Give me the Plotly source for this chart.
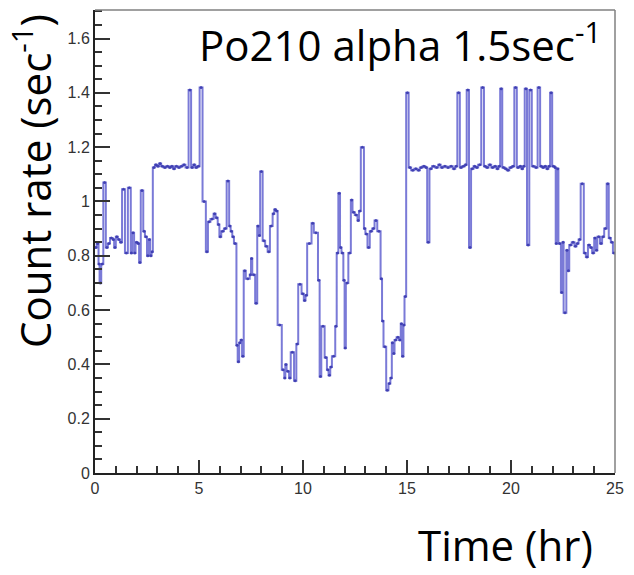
import plotly.graph_objects as go

# Step-histogram: start time of each step (hr) and the count rate (1/sec) over that step
t_start = [
    0.00, 0.08, 0.17, 0.22, 0.30, 0.40, 0.52, 0.62, 0.72, 0.85, 0.92, 1.00, 1.10, 1.20,
    1.30, 1.44, 1.58, 1.72, 1.78, 1.88, 1.95, 2.05, 2.12, 2.20, 2.32, 2.40, 2.50, 2.58,
    2.65, 2.72,
    2.78, 2.88, 2.98, 3.08, 3.18, 3.30, 3.42, 3.55, 3.65, 3.75, 3.85, 3.98, 4.10, 4.22,
    4.35, 4.50, 4.62, 4.72, 4.82, 4.92, 5.03,
    5.17, 5.33, 5.43, 5.55, 5.70, 5.80, 5.90, 5.98, 6.07, 6.20, 6.33, 6.45, 6.52, 6.60,
    6.68, 6.80, 6.86, 6.93, 7.00, 7.07, 7.15, 7.25, 7.44, 7.50, 7.56, 7.70, 7.80, 7.87,
    7.94, 8.06, 8.18, 8.30, 8.41, 8.54, 8.62, 8.70,
    8.78, 8.98, 9.10, 9.15, 9.21, 9.33, 9.41, 9.57, 9.68, 9.77, 9.93, 10.04, 10.12,
    10.20, 10.41, 10.52, 10.72, 10.80, 10.88, 11.04, 11.15, 11.23, 11.31, 11.39, 11.55,
    11.62, 11.70, 11.78, 11.85, 11.94, 12.00, 12.06, 12.18, 12.30,
    12.38, 12.49, 12.62, 12.69, 12.78, 12.93, 13.00, 13.10, 13.21, 13.33, 13.44, 13.57,
    13.73, 13.80, 13.87, 14.00, 14.11, 14.20, 14.27, 14.33, 14.40, 14.50, 14.62, 14.70,
    14.76, 14.83, 14.88, 14.96,
    15.08, 15.20, 15.35, 15.50, 15.62, 15.75, 15.88, 15.97, 16.08, 16.20, 16.35, 16.50,
    16.62, 16.75, 16.90, 17.05, 17.20, 17.32, 17.42, 17.54, 17.65, 17.78, 17.87, 17.98,
    18.08, 18.20, 18.30, 18.42, 18.57, 18.70, 18.80, 18.92, 19.05, 19.18, 19.30, 19.40,
    19.48, 19.58, 19.70, 19.80, 19.92, 20.05, 20.16, 20.28, 20.40, 20.50, 20.58, 20.66,
    20.77, 20.88, 21.00, 21.15, 21.28, 21.40, 21.50, 21.60, 21.70, 21.80, 21.88, 21.98,
    22.10, 22.15, 22.21, 22.28,
    22.40, 22.48, 22.53, 22.66, 22.72, 22.80, 22.92, 23.05, 23.15, 23.25, 23.35, 23.50,
    23.60, 23.70, 23.80, 23.90, 24.00, 24.08, 24.15, 24.28, 24.38, 24.48, 24.60, 24.70,
    24.80, 24.90,
]
rate = [
    0.83, 0.845, 0.77, 0.70, 0.77, 1.07, 0.83, 0.845, 0.865, 0.86, 0.83, 0.87, 0.86, 0.85,
    1.045, 0.81, 1.05, 0.81, 0.885, 0.81, 0.85, 0.845, 0.775, 1.04, 0.89, 0.87, 0.80, 0.86,
    0.80, 0.815,
    1.125, 1.135, 1.13, 1.14, 1.13, 1.125, 1.13, 1.125, 1.13, 1.12, 1.13, 1.125, 1.13, 1.135,
    1.125, 1.41, 1.125, 1.135, 1.125, 1.13, 1.42,
    1.00, 0.815, 0.925, 0.935, 0.955, 0.94, 0.915, 0.87, 0.89, 0.90, 1.075, 0.91, 0.89, 0.87,
    0.845, 0.47, 0.41, 0.48, 0.49, 0.43, 0.745, 0.715, 0.73, 0.79, 0.73, 0.625, 0.91, 0.875,
    1.11, 0.855, 0.835, 0.815, 0.91, 0.955, 0.97, 0.965,
    0.545, 0.38, 0.35, 0.40, 0.375, 0.35, 0.445, 0.34, 0.475, 0.695, 0.66, 0.635, 0.655,
    0.845, 0.92, 0.885, 0.71, 0.355, 0.54, 0.425, 0.38, 0.36, 0.39, 0.43, 0.54,
    0.81, 1.03, 0.83, 0.81, 0.71, 0.46, 0.70, 0.81, 1.005,
    0.96, 0.95, 0.93, 0.965, 1.20, 0.90, 0.88, 0.83, 0.89, 0.90, 0.93, 0.89,
    0.715, 0.56, 0.465, 0.305, 0.33, 0.35, 0.48, 0.44, 0.49, 0.50, 0.49, 0.55,
    0.43, 0.545, 0.65, 1.40,
    1.125, 1.115, 1.12, 1.115, 1.125, 1.13, 1.125, 0.85, 1.12, 1.13, 1.125, 1.135,
    1.125, 1.13, 1.125, 1.13, 1.12, 1.13, 1.40, 1.125, 1.13, 1.135, 1.41, 0.83,
    1.12, 1.13, 1.125, 1.135, 1.42, 1.13, 1.125, 1.135, 1.125, 1.13, 1.12, 1.13,
    1.415, 1.125, 1.12, 1.115, 1.125, 1.13, 1.42, 1.125, 1.13, 1.12, 1.13, 1.415,
    0.84, 1.41, 1.13, 1.125, 1.42, 1.13, 1.125, 1.13, 1.12, 1.13, 1.40, 1.13,
    1.125, 0.845, 1.12, 0.845,
    0.665, 0.85, 0.59, 0.82, 0.745, 0.84, 0.85, 0.835, 0.845, 0.86, 1.065, 0.81,
    0.795, 0.84, 0.83, 0.81, 0.865, 0.82, 0.87, 0.845, 0.87, 0.90, 1.065, 0.865,
    0.85, 0.81,
]
t_end = 25.0

x_tick_vals = [0, 5, 10, 15, 20, 25]
x_tick_text = ["0", "5", "10", "15", "20", "25"]
y_tick_vals = [0, 0.2, 0.4, 0.6, 0.8, 1.0, 1.2, 1.4, 1.6]
y_tick_text = ["0", "0.2", "0.4", "0.6", "0.8", "1", "1.2", "1.4", "1.6"]

x_line = t_start + [t_end]
y_line = rate + [rate[-1]]
edges = t_start + [t_end]
x_mid = [(edges[i] + edges[i + 1]) / 2 for i in range(len(rate))]

fig = go.Figure()
fig.add_trace(go.Scatter(
    x=x_line, y=y_line, mode="lines", line_shape="hv",
    line=dict(color="rgba(70,70,200,0.72)", width=2), hoverinfo="skip",
))
fig.add_trace(go.Scatter(
    x=x_mid, y=rate, mode="markers",
    marker=dict(size=3, color="rgba(50,50,170,0.8)"), hoverinfo="skip",
))

tick_font = dict(family="Liberation Sans, Arial, sans-serif", size=16, color="#333333")
title_font = dict(family="Open Sans, sans-serif", size=42, color="black")

fig.update_layout(
    width=634, height=575,
    margin=dict(l=95, r=12, t=10, b=102),
    paper_bgcolor="white", plot_bgcolor="white",
    showlegend=False,
    xaxis=dict(
        range=[0, 25], tickvals=x_tick_vals, ticktext=x_tick_text,
        ticks="inside", ticklen=13, tickwidth=1.5, tickcolor="#333333",
        minor=dict(ticks="inside", ticklen=7, tickwidth=1.5, tickcolor="#333333", dtick=1, tick0=0),
        showline=True, linecolor="#222222", linewidth=2, mirror=False,
        showgrid=False, zeroline=False, tickfont=tick_font,
    ),
    yaxis=dict(
        range=[0, 1.705], tickvals=y_tick_vals, ticktext=y_tick_text,
        ticks="inside", ticklen=15, tickwidth=1.5, tickcolor="#333333",
        minor=dict(ticks="inside", ticklen=7, tickwidth=1.5, tickcolor="#333333", dtick=0.05, tick0=0),
        showline=True, linecolor="#222222", linewidth=2, mirror=False,
        showgrid=False, zeroline=False, tickfont=tick_font,
    ),
    shapes=[
        dict(type="line", xref="paper", yref="paper", x0=0, x1=1, y0=1, y1=1,
             line=dict(color="#808080", width=1.5)),
        dict(type="line", xref="paper", yref="paper", x0=1, x1=1, y0=0, y1=1,
             line=dict(color="#808080", width=1.5)),
    ],
    annotations=[
        dict(text="Po210 alpha 1.5sec<sup>-1</sup>", xref="paper", yref="paper",
             x=0.977, y=0.93, xanchor="right", yanchor="middle", showarrow=False,
             font=title_font),
        dict(text="Count rate (sec<sup>-1</sup>)", xref="paper", yref="paper",
             x=-0.12, y=0.63, xanchor="center", yanchor="middle", textangle=-90,
             showarrow=False, font=title_font),
        dict(text="Time (hr)", xref="paper", yref="paper",
             x=0.79, y=-0.221, xanchor="center", yanchor="bottom", showarrow=False,
             font=title_font),
    ],
)

fig.write_html("out.html")
